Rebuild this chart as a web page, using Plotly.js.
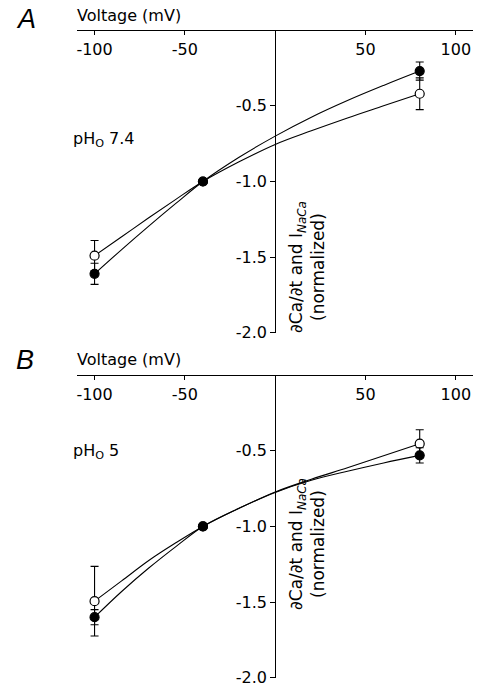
<!DOCTYPE html>
<html>
<head>
<meta charset="utf-8">
<script src="https://cdn.plot.ly/plotly-3.0.1.min.js"></script>
<style>html,body{margin:0;padding:0;background:#fff;}#chart{width:481px;height:692px;}</style>
</head>
<body>
<div id="chart"></div>
<script>
// ---- data ----
const voltage = [-100, -40, 80];
const A_open = [-1.49, -1.0, -0.42];
const A_openErr = [0.10, 0, 0.105];
const A_filled = [-1.61, -1.0, -0.27];
const A_filledErr = [0.07, 0, 0.06];
const B_open = [-1.494, -1.0, -0.453];
const B_openErr = [0.23, 0, 0.092];
const B_filled = [-1.60, -1.0, -0.53];
const B_filledErr = [0.05, 0, 0.05];

const fitV = [-100, -85, -70, -55, -40, -20, 0, 20, 40, 60, 80];
const A_openFit = [-1.49, -1.365, -1.24, -1.118, -1.0, -0.87, -0.755, -0.665, -0.58, -0.50, -0.42];
const A_filledFit = [-1.61, -1.45, -1.295, -1.145, -1.0, -0.84, -0.70, -0.575, -0.465, -0.365, -0.27];
const B_openFit = [-1.494, -1.36, -1.225, -1.108, -1.0, -0.88, -0.772, -0.688, -0.612, -0.533, -0.453];
const B_filledFit = [-1.60, -1.43, -1.275, -1.133, -1.0, -0.88, -0.775, -0.695, -0.635, -0.58, -0.53];

const xTickVals = [-100, -50, 50, 100];
const xTickText = ['-100', '-50', '50', '100'];
const yTickVals = [-2.0, -1.5, -1.0, -0.5];
const yTickText = ['-2.0', '-1.5', '-1.0', '-0.5'];

// ---- layout geometry ----
const W = 481, H = 692;
const FONT = 'DejaVu Sans, sans-serif';
const xRange = [-110, 109.5];
const xDom = [76.5 / W, 473 / W];
const yRange = [-2.0, 0];
const yDomA = [1 - 332.8 / H, 1 - 30.2 / H];
const yDomB = [1 - 677.7 / H, 1 - 375.2 / H];
const yAxisPos = xDom[0] + (0 - xRange[0]) / (xRange[1] - xRange[0]) * (xDom[1] - xDom[0]);

function px(x) { return x / W; }
function py(y) { return 1 - y / H; }

function fitTrace(y, xa, ya) {
  return {x: fitV, y: y, xaxis: xa, yaxis: ya, mode: 'lines', type: 'scatter',
    line: {color: '#000', width: 1.1, shape: 'spline', smoothing: 1}, hoverinfo: 'skip'};
}
function ptTrace(y, err, filled, xa, ya) {
  return {x: voltage, y: y, xaxis: xa, yaxis: ya, mode: 'markers', type: 'scatter',
    marker: {size: 9, color: filled ? '#000' : '#fff', line: {color: '#000', width: 1.2}},
    error_y: {type: 'data', array: err, visible: true, color: '#000', thickness: 1.1, width: 4}};
}

const data = [
  fitTrace(A_openFit, 'x', 'y'),
  fitTrace(A_filledFit, 'x', 'y'),
  ptTrace(A_open, A_openErr, false, 'x', 'y'),
  ptTrace(A_filled, A_filledErr, true, 'x', 'y'),
  fitTrace(B_openFit, 'x2', 'y2'),
  fitTrace(B_filledFit, 'x2', 'y2'),
  ptTrace(B_open, B_openErr, false, 'x2', 'y2'),
  ptTrace(B_filled, B_filledErr, true, 'x2', 'y2')
];

function xAxis(pos) {
  return {domain: xDom, range: xRange, anchor: 'free', position: pos, side: 'bottom',
    showline: true, linecolor: '#000', linewidth: 1.2, showgrid: false, zeroline: false,
    tickmode: 'array', tickvals: xTickVals, ticktext: xTickText,
    ticks: 'outside', ticklen: 4, tickwidth: 1, tickcolor: '#000',
    tickfont: {family: FONT, size: 16, color: '#000'}};
}
function yAxis(dom) {
  return {domain: dom, range: yRange, anchor: 'free', position: yAxisPos, side: 'left',
    showline: true, linecolor: '#000', linewidth: 1.2, showgrid: false, zeroline: false,
    tickmode: 'array', tickvals: yTickVals, ticktext: yTickText,
    ticks: 'outside', ticklen: 5, tickwidth: 1, tickcolor: '#000',
    tickfont: {family: FONT, size: 16, color: '#000'}};
}

const yTitle = '\u2202Ca/\u2202t and I<sub><i>NaCa</i></sub><br>(normalized)';
function ann(text, x, y, opts) {
  return Object.assign({text: text, x: px(x), y: py(y), xref: 'paper', yref: 'paper',
    showarrow: false, font: {family: FONT, size: 16, color: '#000'}}, opts || {});
}
const letterFont = {family: 'Liberation Sans, Arial, sans-serif', size: 27, color: '#000'};

const annotations = [
  ann('<i>A</i>', 15, 3, {xanchor: 'left', yanchor: 'top', font: letterFont, borderpad: 0}),
  ann('Voltage (mV)', 75, 15, {xanchor: 'left', yanchor: 'middle'}),
  ann('pH<sub>O</sub> 7.4', 71, 139, {xanchor: 'left', yanchor: 'middle'}),
  ann(yTitle, 307, 267, {textangle: -90, font: {family: FONT, size: 17, color: '#000'}}),
  ann('<i>B</i>', 15, 344, {xanchor: 'left', yanchor: 'top', font: letterFont, borderpad: 0}),
  ann('Voltage (mV)', 75, 359, {xanchor: 'left', yanchor: 'middle'}),
  ann('pH<sub>O</sub> 5', 71, 451, {xanchor: 'left', yanchor: 'middle'}),
  ann(yTitle, 307, 612, {textangle: -90, font: {family: FONT, size: 17, color: '#000'}})
];

const layout = {
  width: W, height: H,
  margin: {l: 0, r: 0, t: 0, b: 0},
  paper_bgcolor: '#fff', plot_bgcolor: 'rgba(0,0,0,0)',
  showlegend: false,
  font: {family: FONT, size: 16, color: '#000'},
  xaxis: xAxis(yDomA[1]),
  yaxis: yAxis(yDomA),
  xaxis2: xAxis(yDomB[1]),
  yaxis2: yAxis(yDomB),
  annotations: annotations
};

Plotly.newPlot('chart', data, layout, {displayModeBar: false, staticPlot: true});
</script>
</body>
</html>
